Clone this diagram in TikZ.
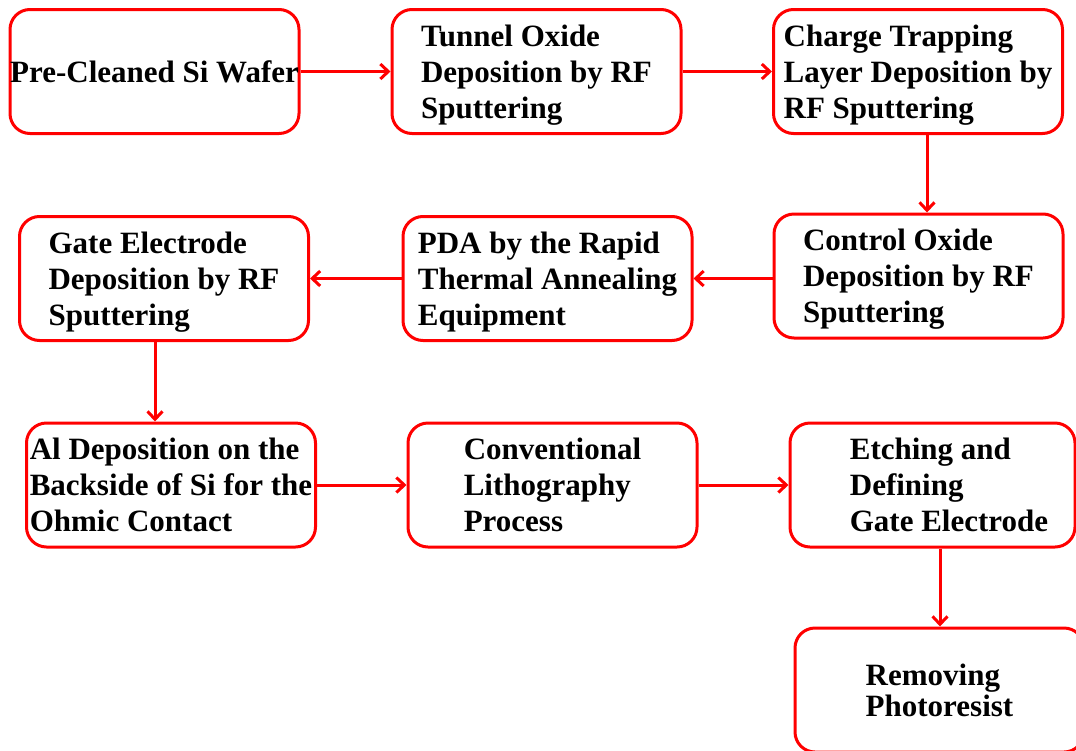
\documentclass[tikz,border=0pt]{standalone}
\usepackage{fontspec}
\setmainfont{Liberation Serif}
\usetikzlibrary{arrows.meta}

\newcommand{\padline}{\hspace*{33pt}}

\begin{document}
\begin{tikzpicture}[x=1pt, y=-1pt,
  stepbox/.style={draw=red, line width=3pt, rounded corners=20pt, fill=white,
    align=left, minimum width=289pt, minimum height=124pt, inner sep=0pt,
    text depth=0pt, font=\fontsize{31}{36}\selectfont\bfseries},
  flow/.style={draw=red, line width=3pt, -{Straight Barb[length=8pt,width=15pt]}}]
\useasboundingbox (0,0) rectangle (1076,750);
\clip (0,0) rectangle (1076,750);
% first row
\node[stepbox] (wafer) at (154.5,71.5) {Pre-Cleaned Si Wafer};
\node[stepbox] (tunnel) at (536.5,71.5) {Tunnel Oxide\\Deposition by RF\\Sputtering};
\node[stepbox] (trap) at (918,71.5) {Charge Trapping\\Layer Deposition by\\RF Sputtering};
% second row
\node[stepbox] (control) at (918.5,276) {Control Oxide\\Deposition by RF\\Sputtering};
\node[stepbox] (pda) at (547.5,278.5) {PDA by the Rapid\\Thermal Annealing\\Equipment};
\node[stepbox] (gate) at (164,278.5) {Gate Electrode\\Deposition by RF\\Sputtering};
% third row
\node[stepbox] (alback) at (171,485) {Al Deposition on the\\Backside of Si for the\\Ohmic Contact};
\node[stepbox] (litho) at (552.5,485) {Conventional\\Lithography\\Process};
\node[stepbox, minimum width=285pt] (etch) at (932.5,485)
  {\padline Etching and\\\padline Defining\\\padline Gate Electrode};
\node[stepbox, font=\fontsize{31}{31}\selectfont\bfseries] (strip) at (939.5,690) {Removing\\Photoresist};
% arrows
\draw[flow] (wafer) -- (tunnel);
\draw[flow] (tunnel) -- (trap);
\draw[flow] ([xshift=9pt]trap.south) -- ([xshift=9pt]trap.south |- control.north);
\draw[flow] (control.west |- pda) -- (pda);
\draw[flow] (pda) -- (gate);
\draw[flow] ([xshift=-9pt]gate.south) -- ([xshift=-9pt]gate.south |- alback.north);
\draw[flow] (alback) -- (litho);
\draw[flow] (litho) -- (etch);
\draw[flow] ([xshift=7.5pt]etch.south) -- ([xshift=7.5pt]etch.south |- strip.north);
\end{tikzpicture}
\end{document}
